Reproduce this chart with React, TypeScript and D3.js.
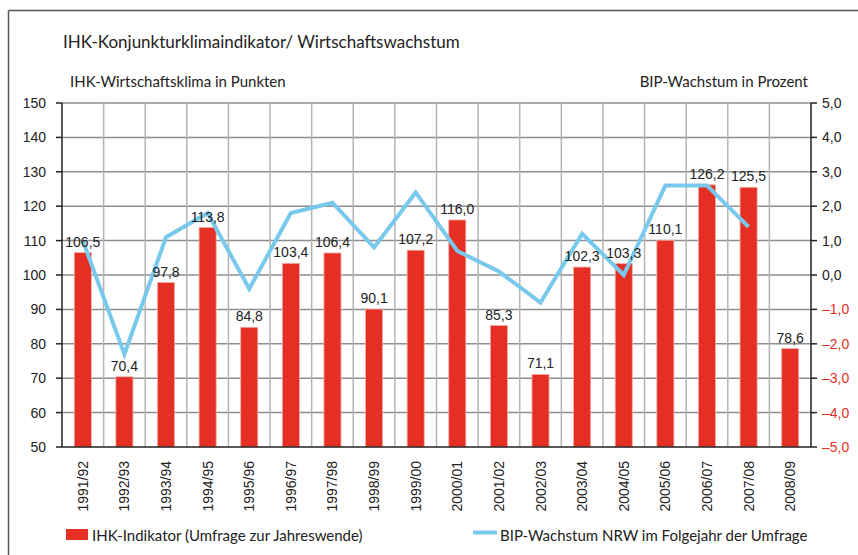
import React from 'react';
import * as d3 from 'd3';

const categories = ['1991/92', '1992/93', '1993/94', '1994/95', '1995/96', '1996/97', '1997/98', '1998/99', '1999/00', '2000/01', '2001/02', '2002/03', '2003/04', '2004/05', '2005/06', '2006/07', '2007/08', '2008/09'];
const ihkValues = [106.5, 70.4, 97.8, 113.8, 84.8, 103.4, 106.4, 90.1, 107.2, 116.0, 85.3, 71.1, 102.3, 103.3, 110.1, 126.2, 125.5, 78.6];
// BIP growth, one value less (no value yet for 2008/09)
const bipValues = [1.0, -2.3, 1.1, 1.8, -0.4, 1.8, 2.1, 0.8, 2.4, 0.7, 0.1, -0.8, 1.2, 0.0, 2.6, 2.6, 1.4];
const leftTicks = [50, 60, 70, 80, 90, 100, 110, 120, 130, 140, 150];
const rightTicks = [-5, -4, -3, -2, -1, 0, 1, 2, 3, 4, 5];

const W = 858;
const H = 555;
const margin = { top: 103, right: 47, bottom: 108, left: 62 };

const RED = '#e52f25';
const BLUE = '#79c9ec';
const numFont = '"Liberation Sans", Arial, sans-serif';
const textFont = 'Lato, "Open Sans", sans-serif';

const fmt = (v: number) => v.toFixed(1).replace('.', ',');

const App: React.FC = () => {
  const x0 = margin.left;
  const x1 = W - margin.right;
  const y0 = H - margin.bottom;
  const y1 = margin.top;

  const x = d3.scaleBand<string>().domain(categories).range([x0, x1]).paddingInner(0).paddingOuter(0);
  const yL = d3.scaleLinear().domain([50, 150]).range([y0, y1]);
  const yR = d3.scaleLinear().domain([-5, 5]).range([y0, y1]);
  const bw = x.bandwidth() * 0.41;
  const cx = (c: string) => (x(c) as number) + x.bandwidth() / 2;

  const line = d3.line<number>()
    .x((_, i) => cx(categories[i]))
    .y(d => yR(d));

  return (
    <svg width={W} height={H} style={{ position: 'absolute', left: 0, top: 0, background: '#fff' }}>
      {/* frame */}
      <line x1={8.5} x2={W} y1={10.5} y2={10.5} stroke="#555" strokeWidth={1.5} />
      <line x1={8.5} x2={8.5} y1={10.5} y2={H} stroke="#555" strokeWidth={1.5} />

      <text x={63} y={48} fontFamily={textFont} fontSize={17} fill="#222">IHK-Konjunkturklimaindikator/ Wirtschaftswachstum</text>
      <text x={70} y={87} fontFamily={textFont} fontSize={15} fill="#222">IHK-Wirtschaftsklima in Punkten</text>
      <text x={808} y={87} fontFamily={textFont} fontSize={15} fill="#222" textAnchor="end">BIP-Wachstum in Prozent</text>

      {/* grid */}
      {leftTicks.slice(1).map(t => (
        <line key={'h' + t} x1={x0} x2={x1} y1={yL(t)} y2={yL(t)} stroke="#8e8e8e" strokeWidth={1.5} />
      ))}
      {categories.slice(1).map(c => (
        <line key={'v' + c} x1={x(c)} x2={x(c)} y1={y1} y2={y0} stroke="#b4b4b4" strokeWidth={1.5} />
      ))}

      {/* bars */}
      {categories.map((c, i) => (
        <rect key={'b' + c} x={cx(c) - bw / 2} y={yL(ihkValues[i])} width={bw} height={y0 - yL(ihkValues[i])}
          fill={RED} stroke="#f3aaa4" strokeWidth={0.8} />
      ))}

      {/* BIP line */}
      <path d={line(bipValues) || ''} fill="none" stroke={BLUE} strokeWidth={4} strokeLinejoin="miter" />

      {/* value labels */}
      {categories.map((c, i) => (
        <text key={'l' + c} x={cx(c)} y={yL(ihkValues[i]) - 6} textAnchor="middle" fontFamily={numFont} fontSize={14} fill="#222">
          {fmt(ihkValues[i])}
        </text>
      ))}

      {/* axes */}
      <line x1={x0} x2={x0} y1={y1} y2={y0} stroke="#222" strokeWidth={1.5} />
      <line x1={x1} x2={x1} y1={y1} y2={y0} stroke="#222" strokeWidth={1.5} />
      <line x1={x0} x2={x1} y1={y0} y2={y0} stroke="#222" strokeWidth={1.5} />
      {leftTicks.map(t => (
        <g key={'lt' + t}>
          <line x1={x0 - 6} x2={x0} y1={yL(t)} y2={yL(t)} stroke="#222" strokeWidth={1.5} />
          <text x={46} y={yL(t) + 5} textAnchor="end" fontFamily={numFont} fontSize={14} fill="#222">{t}</text>
        </g>
      ))}
      {rightTicks.map(t => (
        <g key={'rt' + t}>
          <line x1={x1} x2={x1 + 6} y1={yR(t)} y2={yR(t)} stroke="#222" strokeWidth={1.5} />
          <text x={x1 + 11} y={yR(t) + 5} fontFamily={numFont} fontSize={14} fill={t < 0 ? RED : '#222'}>
            {t < 0 ? '\u2013' + fmt(-t) : fmt(t)}
          </text>
        </g>
      ))}
      {categories.map(c => (
        <text key={'x' + c} transform={`translate(${cx(c) + 5},${y0 + 14}) rotate(-90)`} textAnchor="end"
          fontFamily={numFont} fontSize={14} fill="#222">{c}</text>
      ))}

      {/* legend */}
      <rect x={66} y={529} width={22} height={11} fill={RED} />
      <text x={92} y={541} fontFamily={textFont} fontSize={15} fill="#222">IHK-Indikator (Umfrage zur Jahreswende)</text>
      <line x1={473} x2={497} y1={532.5} y2={532.5} stroke={BLUE} strokeWidth={4} />
      <text x={500} y={541} fontFamily={textFont} fontSize={15} fill="#222">BIP-Wachstum NRW im Folgejahr der Umfrage</text>
    </svg>
  );
};

export default App;
